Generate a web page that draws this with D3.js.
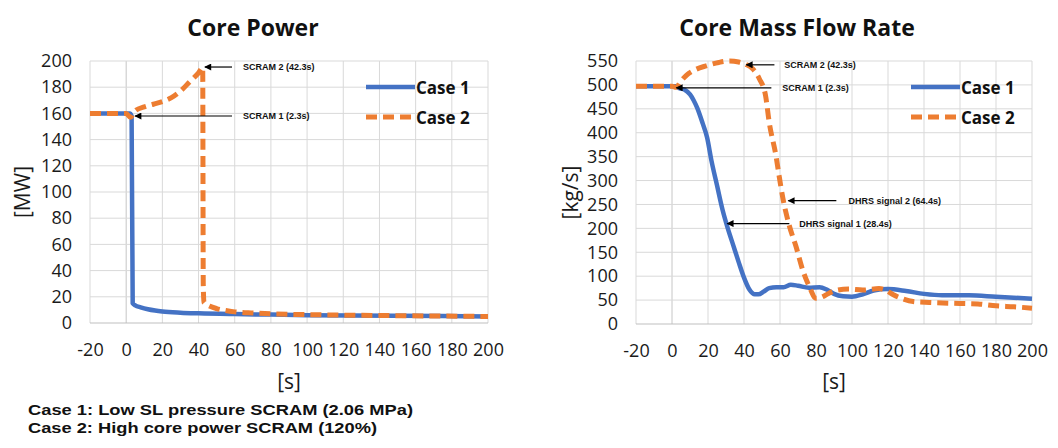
<!DOCTYPE html>
<html><head><meta charset="utf-8">
<script src="https://cdn.jsdelivr.net/npm/d3@7"></script>
<style>
html,body{margin:0;padding:0;background:#fff;}
svg{display:block;}
</style></head>
<body>
<svg id="chart" width="1058" height="448"></svg>
<script>
// ---------- data ----------
const seriesNames = ["Case 1", "Case 2"];
const xTicks = [-20, 0, 20, 40, 60, 80, 100, 120, 140, 160, 180, 200];
const powerTicks = [0, 20, 40, 60, 80, 100, 120, 140, 160, 180, 200];
const flowTicks = [0, 50, 100, 150, 200, 250, 300, 350, 400, 450, 500, 550];

const powerCase1 = [[-20,160],[0,160],[2,160],[3,158],[3.6,15],[5,13.5],[8,12],[12,10.5],[16,9.5],[20,8.8],[30,7.9],[40,7.4],[60,6.8],[80,6.4],[100,6],[150,5.5],[200,5]];
const powerCase2 = [[-20,160],[0,160],[2.3,157],[5,162],[10,165],[15,167],[20,169],[25,172],[30,177],[35,184],[40,191],[42.3,195],[42.6,30],[43,15.5],[46,13],[50,11],[55,9.5],[60,8.5],[70,7.6],[80,7],[100,6.4],[150,5.6],[200,5]];

const flowCase1 = [[-20,497],[0,497],[2,497],[4,493],[7,490],[10,480],[12,468],[14,452],[17,420],[19.5,390],[22,340],[25,290],[28,240],[31,200],[34,165],[37,130],[40,97],[43,72],[46,62],[48,62],[51,68],[54,75],[58,77],[62,77],[66,82],[70,80],[76,76],[82,77],[86,72],[90,63],[95,58],[100,57],[106,62],[112,70],[120,73],[130,69],[140,63],[150,60],[165,60],[180,57],[200,53]];
const flowCase2 = [[-20,497],[0,497],[2.3,495],[5,508],[8,520],[12,530],[19,540],[26,547],[32,550],[37,548],[41,543],[45,533],[48.5,513],[52,477],[54,422],[57.8,351],[59.5,310],[61.5,265],[65,208],[68.9,162],[72.6,113],[76.3,78],[80,54],[83,56],[87,64],[91,70],[98,73],[106,71],[115,74],[119,70],[123,61],[128,53],[134,47],[143,45],[160,43],[170,42],[180,38],[190,36],[200,33]];

const powerNotes = [
  {label:"SCRAM 2 (42.3s)", tipX:43.5, tipY:195.4, tailX:58.5, textX:64.6},
  {label:"SCRAM 1 (2.3s)", tipX:4.9, tipY:158, tailX:58.5, textX:64.6}
];
const flowNotes = [
  {label:"SCRAM 2 (42.3s)", tipX:41.3, tipY:542, tailX:56.9, textX:62.4},
  {label:"SCRAM 1 (2.3s)", tipX:2.4, tipY:494, tailX:55.2, textX:61.3},
  {label:"DHRS signal 2 (64.4s)", tipX:64.6, tipY:258, tailX:91.3, textX:98},
  {label:"DHRS signal 1 (28.4s)", tipX:30.7, tipY:210, tailX:65.2, textX:70.7}
];
const footnotes = ["Case 1: Low SL pressure SCRAM (2.06 MPa)", "Case 2: High core power SCRAM (120%)"];

// ---------- drawing ----------
const svg = d3.select("#chart");
svg.append("rect").attr("width",1058).attr("height",448).attr("fill","#fff");
const defs = svg.append("defs");
defs.append("marker").attr("id","arrow").attr("viewBox","0 0 10 10")
  .attr("refX",9).attr("refY",5).attr("markerWidth",9).attr("markerHeight",7)
  .attr("markerUnits","userSpaceOnUse").attr("orient","auto")
  .append("path").attr("d","M0,0 L10,5 L0,10 Z").attr("fill","#000");

const FONT = "'Open Sans', sans-serif";
const BLUE = "#4472C4", ORANGE = "#ED7D31";
const fmt = d => String(d);

function drawChart(o) {
  const g = svg.append("g");
  const x = d3.scaleLinear().domain([-20,200]).range([o.left,o.right]);
  const y = d3.scaleLinear().domain([0,o.yMax]).range([o.bottom,o.top]);

  // gridlines
  g.append("g").selectAll("line").data(xTicks).join("line")
    .attr("x1",d=>x(d)).attr("x2",d=>x(d)).attr("y1",o.top).attr("y2",o.bottom)
    .attr("stroke",d=>d===0?"#c6c6c6":"#d9d9d9").attr("stroke-width",1);
  g.append("g").selectAll("line").data(o.yTicks).join("line")
    .attr("x1",o.left).attr("x2",o.right).attr("y1",d=>y(d)).attr("y2",d=>y(d))
    .attr("stroke",d=>d===0?"#bfbfbf":"#d9d9d9").attr("stroke-width",1);

  // axes labels via d3 axes
  const xAxis = d3.axisBottom(x).tickValues(xTicks).tickFormat(fmt).tickSize(0).tickPadding(20);
  const xa = g.append("g").attr("transform",`translate(0,${o.bottom})`).call(xAxis);
  xa.select(".domain").remove();
  xa.selectAll("text").attr("font-family",FONT).attr("font-size",18).attr("fill","#1a1a1a");
  const yAxis = d3.axisLeft(y).tickValues(o.yTicks).tickFormat(fmt).tickSize(0).tickPadding(o.left-o.labelRight);
  const ya = g.append("g").attr("transform",`translate(${o.left},0)`).call(yAxis);
  ya.select(".domain").remove();
  ya.selectAll("text").attr("font-family",FONT).attr("font-size",18).attr("fill","#1a1a1a");

  // titles
  g.append("text").attr("x",o.titleX).attr("y",36).attr("text-anchor","middle")
    .attr("font-family",FONT).attr("font-weight",700).attr("font-size",23).attr("fill","#111").text(o.title);
  g.append("text").attr("x",(o.left+o.right)/2).attr("y",389).attr("text-anchor","middle")
    .attr("font-family",FONT).attr("font-size",21).attr("fill","#1a1a1a").text("[s]");
  g.append("text").attr("transform",`translate(${o.yLabelX},${(o.top+o.bottom)/2}) rotate(-90)`)
    .attr("text-anchor","middle").attr("dominant-baseline","central")
    .attr("font-family",FONT).attr("font-size",21).attr("fill","#1a1a1a").text(o.yLabel);

  // lines
  const line = d3.line().x(d=>x(d[0])).y(d=>y(d[1])).curve(d3.curveMonotoneX);
  g.append("path").datum(o.s1).attr("d",line).attr("fill","none")
    .attr("stroke",BLUE).attr("stroke-width",4.5).attr("stroke-linejoin","round");
  g.append("path").datum(o.s2).attr("d",line).attr("fill","none")
    .attr("stroke",ORANGE).attr("stroke-width",5).attr("stroke-dasharray","11,6").attr("stroke-linejoin","round");

  // annotations
  o.notes.forEach(n=>{
    g.append("line").attr("x1",x(n.tailX)).attr("y1",y(n.tipY)).attr("x2",x(n.tipX)).attr("y2",y(n.tipY))
      .attr("stroke","#000").attr("stroke-width",1.2).attr("marker-end","url(#arrow)");
    g.append("text").attr("x",x(n.textX)).attr("y",y(n.tipY)).attr("dominant-baseline","central")
      .attr("font-family","'Liberation Sans', Arial, sans-serif").attr("font-weight",700).attr("font-size",9)
      .attr("fill","#111").text(n.label);
  });

  // legend
  const leg = g.append("g");
  seriesNames.forEach((name,i)=>{
    const ly = 87 + i*30;
    leg.append("line").attr("x1",o.legX).attr("x2",o.legX+49).attr("y1",ly).attr("y2",ly)
      .attr("stroke",i?ORANGE:BLUE).attr("stroke-width",i?5:4.5)
      .attr("stroke-dasharray",i?"11,6":null);
    leg.append("text").attr("x",o.legX+50).attr("y",ly).attr("dominant-baseline","central")
      .attr("font-family",FONT).attr("font-weight",700).attr("font-size",17).attr("fill","#111").text(name);
  });
}

drawChart({left:90,right:488,top:61,bottom:323,yMax:200,yTicks:powerTicks,labelRight:72,
  title:"Core Power",titleX:253,yLabel:"[MW]",yLabelX:22,s1:powerCase1,s2:powerCase2,notes:powerNotes,legX:366});
drawChart({left:636,right:1032,top:61,bottom:324,yMax:550,yTicks:flowTicks,labelRight:618,
  title:"Core Mass Flow Rate",titleX:797,yLabel:"[kg/s]",yLabelX:570,s1:flowCase1,s2:flowCase2,notes:flowNotes,legX:911});

// footnotes
svg.append("g").selectAll("text").data(footnotes).join("text")
  .attr("x",28).attr("y",(d,i)=>415+i*18)
  .attr("font-family","'Liberation Sans', Arial, sans-serif").attr("font-weight",700).attr("font-size",15)
  .attr("textLength",(d,i)=>i?349:385).attr("lengthAdjust","spacingAndGlyphs")
  .attr("fill","#111").text(d=>d);
</script>
</body></html>
